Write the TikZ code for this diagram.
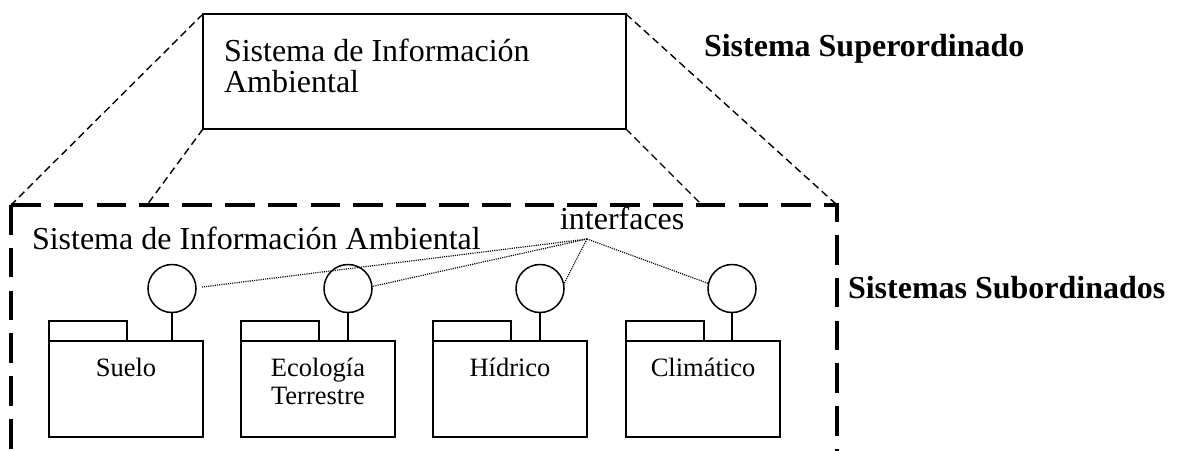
\documentclass[tikz,border=0pt]{standalone}
\usepackage{fontspec}
\setmainfont{Liberation Serif}
\usetikzlibrary{calc}
\begin{document}
\begin{tikzpicture}[x=1pt,y=-1pt,
  bigtxt/.style={font=\fontsize{32}{29}\selectfont, inner sep=0pt, outer sep=0pt},
  boldtxt/.style={font=\fontsize{32}{29}\selectfont\bfseries, inner sep=0pt, outer sep=0pt},
  pkgtxt/.style={font=\fontsize{26.5}{28}\selectfont, inner sep=0pt, outer sep=0pt},
  topbox/.style={draw, line width=1.6pt, minimum width=423pt, minimum height=115pt, inner sep=0pt, outer sep=0pt},
  tabbox/.style={draw, line width=1.5pt, minimum width=78pt, minimum height=20pt, inner sep=0pt, outer sep=0pt},
  pkgbox/.style={draw, line width=1.5pt, minimum width=154pt, minimum height=96pt, inner sep=0pt, outer sep=0pt},
  ifcirc/.style={draw, circle, line width=1.5pt, minimum size=48pt, inner sep=0pt, outer sep=0pt},
  solidln/.style={line width=1.5pt},
  thindash/.style={line width=1.4pt, dash pattern=on 7.5pt off 4.5pt},
  framedash/.style={line width=3.3pt, dash pattern=on 29.5pt off 13.3pt},
  dotln/.style={line width=1.2pt, dash pattern=on 1.1pt off 1.1pt}
]
\useasboundingbox (0,0) rectangle (1177,450);

% superordinate system
\node[topbox, anchor=north west] (top) at (203,14) {};
\node[bigtxt, anchor=base west] (toptxtA) at (224,61) {Sistema de Información};
\node[bigtxt, anchor=base west] (toptxtB) at (224,92) {Ambiental};
\node[boldtxt, anchor=base west] (sup) at (704,56) {Sistema Superordinado};

% frame of subordinate systems
\coordinate (fnw) at (11,205);
\coordinate (fne) at (837,205);
\coordinate (fsw) at (11,470);
\coordinate (fse) at (837,470);
\coordinate (fl) at (147,205);
\coordinate (fr) at (702,205);
\draw[framedash] (fnw) -- (fne) -- (fse);
\draw[framedash] (fnw) -- (fsw);

\draw[thindash] (top.north west) -- (fnw);
\draw[thindash] (top.south west) -- (fl);
\draw[thindash] (top.south east) -- (fr);
\draw[thindash] (top.north east) -- (fne);

\node[bigtxt, anchor=base west] (sia) at (32,249) {Sistema de Información Ambiental};
\node[bigtxt, anchor=base west] (ifl) at (560,229) {interfaces};
\coordinate (ifc) at (587,239);
\node[boldtxt, anchor=base west] (sub) at (848,298) {Sistemas Subordinados};

% packages
\node[tabbox, anchor=north west] (t1) at (49,321) {};
\node[pkgbox, anchor=north west] (p1) at (49,341) {};
\node[ifcirc] (c1) at (172,288.5) {};
\draw[solidln] (c1.south) -- (c1.south |- p1.north);
\node[pkgtxt, anchor=base] (l1) at (126,376) {Suelo};

\node[tabbox, anchor=north west] (t2) at (241,321) {};
\node[pkgbox, anchor=north west] (p2) at (241,341) {};
\node[ifcirc] (c2) at (348,288.5) {};
\draw[solidln] (c2.south) -- (c2.south |- p2.north);
\node[pkgtxt, anchor=base] (l2a) at (318,376) {Ecología};
\node[pkgtxt, anchor=base] (l2b) at (318,404) {Terrestre};

\node[tabbox, anchor=north west] (t3) at (433,321) {};
\node[pkgbox, anchor=north west] (p3) at (433,341) {};
\node[ifcirc] (c3) at (540,288.5) {};
\draw[solidln] (c3.south) -- (c3.south |- p3.north);
\node[pkgtxt, anchor=base] (l3) at (510,376) {Hídrico};

\node[tabbox, anchor=north west] (t4) at (626,321) {};
\node[pkgbox, anchor=north west] (p4) at (626,341) {};
\node[ifcirc] (c4) at (732,288.5) {};
\draw[solidln] (c4.south) -- (c4.south |- p4.north);
\node[pkgtxt, anchor=base] (l4) at (703,376) {Climático};

% interface links
\draw[dotln] (ifc) -- ([xshift=6pt,yshift=1.5pt]c1.east);
\draw[dotln] (ifc) -- ([yshift=2pt]c2.east);
\draw[dotln] (ifc) -- (c3.10);
\draw[dotln] (ifc) -- (c4.168);
\end{tikzpicture}
\end{document}
